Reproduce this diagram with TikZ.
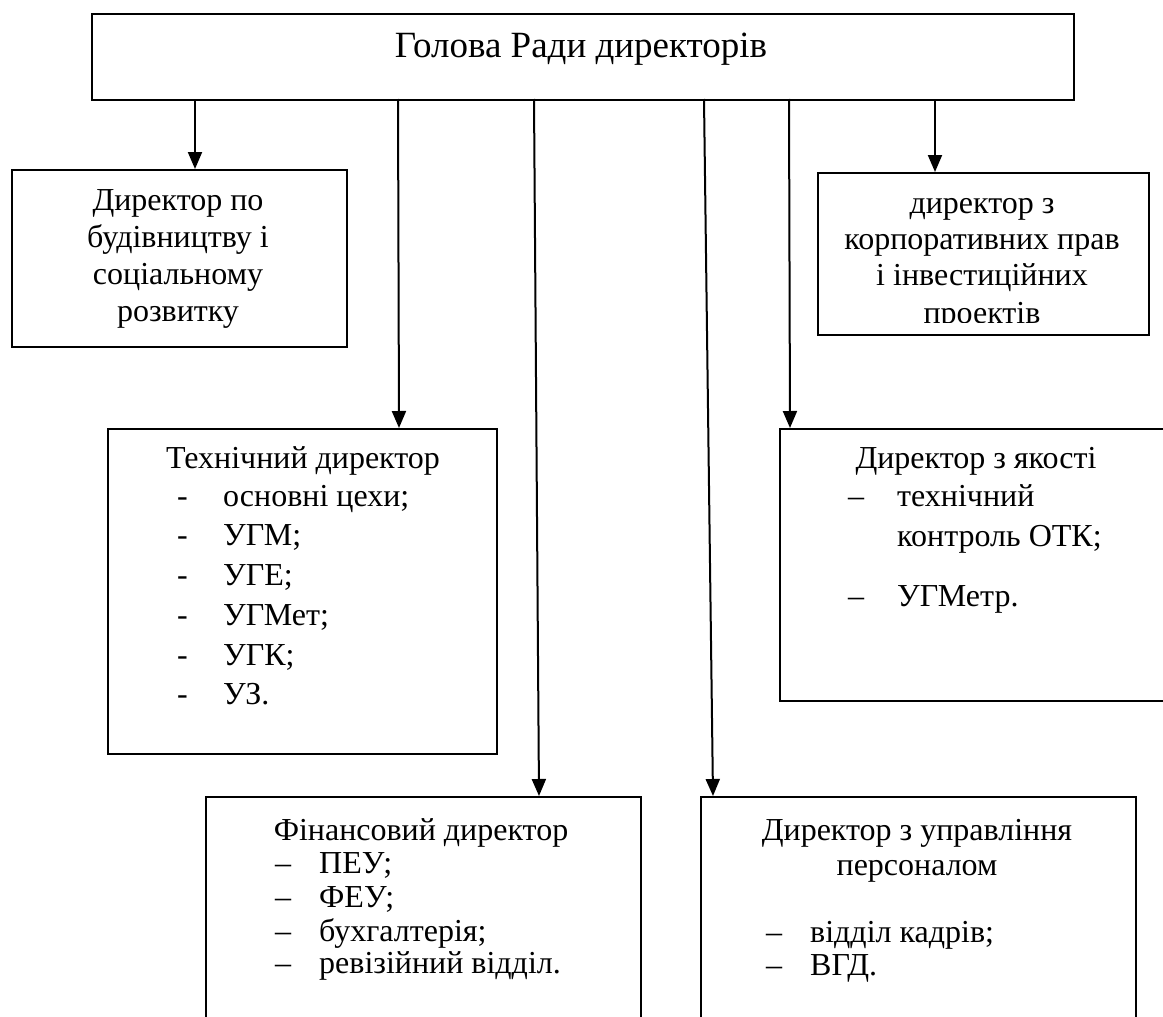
\documentclass[tikz,border=0pt]{standalone}
\usepackage{fontspec}
\setmainfont{Liberation Serif}
\usetikzlibrary{arrows.meta}
\begin{document}
\begin{tikzpicture}[x=1pt,y=-1pt,
  box/.style={draw, line width=2pt, anchor=north west, inner sep=0pt},
  arr/.style={line width=2pt, -{Triangle[width=14pt,length=17pt]}},
  txt/.style={font=\fontsize{32}{37}\selectfont, anchor=base, inner sep=0pt},
  itm/.style={font=\fontsize{32}{37}\selectfont, anchor=base west, inner sep=0pt},
]
\useasboundingbox (0,0) rectangle (1163,1017);
\clip (0,0) rectangle (1163,1017);

% boxes
\node[box, minimum width=982, minimum height=86] (head) at (91,13) {};
\node[box, minimum width=335, minimum height=177] (build) at (11,169) {};
\node[box, minimum width=331, minimum height=162] (corp) at (817,172) {};
\node[box, minimum width=389, minimum height=325] (tech) at (107,428) {};
\node[box, minimum width=395, minimum height=272] (qual) at (779,428) {};
\node[box, minimum width=435, minimum height=240] (fin) at (205,796) {};
\node[box, minimum width=435, minimum height=240] (hr) at (700,796) {};

% head text
\node[txt, font=\fontsize{37}{42}\selectfont] (headt) at (581,57) {Голова Ради директорів};

% building
\node[txt] (b1) at (178,210) {Директор по};
\node[txt] (b2) at (178,247) {будівництву і};
\node[txt] (b3) at (178,284) {соціальному};
\node[txt] (b4) at (178,321) {розвитку};

% corporate
\begin{scope}
\clip (817,172) rectangle (1148,322);
\node[txt] (c1) at (982,213) {директор з};
\node[txt] (c2) at (982,249) {корпоративних прав};
\node[txt] (c3) at (982,285) {і інвестиційних};
\node[txt] (c4) at (982,323) {проектів};
\end{scope}

% technical
\node[txt] (t0) at (303,468) {Технічний директор};
\foreach \y/\t [count=\i] in {506/основні цехи;, 545/УГМ;, 585/УГЕ;, 625/УГМет;, 665/УГК;, 704/УЗ.}{
  \node[itm] (td\i) at (177,\y) {-};
  \node[itm] (ti\i) at (223,\y) {\t};
}

% quality
\node[txt] (q0) at (976,468) {Директор з якості};
\node[itm] (qd1) at (848,506) {–};
\node[itm] (qi1) at (897,506) {технічний};
\node[itm] (qi2) at (897,546) {контроль ОТК;};
\node[itm] (qd3) at (848,606) {–};
\node[itm] (qi3) at (897,606) {УГМетр.};

% financial
\node[txt] (f0) at (421,840) {Фінансовий директор};
\foreach \y/\t [count=\i] in {873/ПЕУ;, 907/ФЕУ;, 941/бухгалтерія;, 973/ревізійний відділ.}{
  \node[itm] (fd\i) at (275,\y) {–};
  \node[itm] (fi\i) at (319,\y) {\t};
}

% hr
\node[txt] (h0) at (917,840) {Директор з управління};
\node[txt] (h1) at (917,875) {персоналом};
\node[itm] (hd1) at (766,942) {–};
\node[itm] (hi1) at (810,942) {відділ кадрів;};
\node[itm] (hd2) at (766,975) {–};
\node[itm] (hi2) at (810,975) {ВГД.};

% connectors
\coordinate (s1) at (195,99);
\coordinate (s2) at (398,99);
\coordinate (s3) at (534,99);
\coordinate (s4) at (704,99);
\coordinate (s5) at (789,99);
\coordinate (s6) at (935,99);
\draw[arr] (s1) -- (s1 |- build.north);
\draw[arr] (s2) -- ([xshift=1pt]s2 |- tech.north);
\draw[arr] (s3) -- ([xshift=5pt]s3 |- fin.north);
\draw[arr] (s4) -- ([xshift=9pt]s4 |- hr.north);
\draw[arr] (s5) -- ([xshift=1pt]s5 |- qual.north);
\draw[arr] (s6) -- (s6 |- corp.north);
\end{tikzpicture}
\end{document}
